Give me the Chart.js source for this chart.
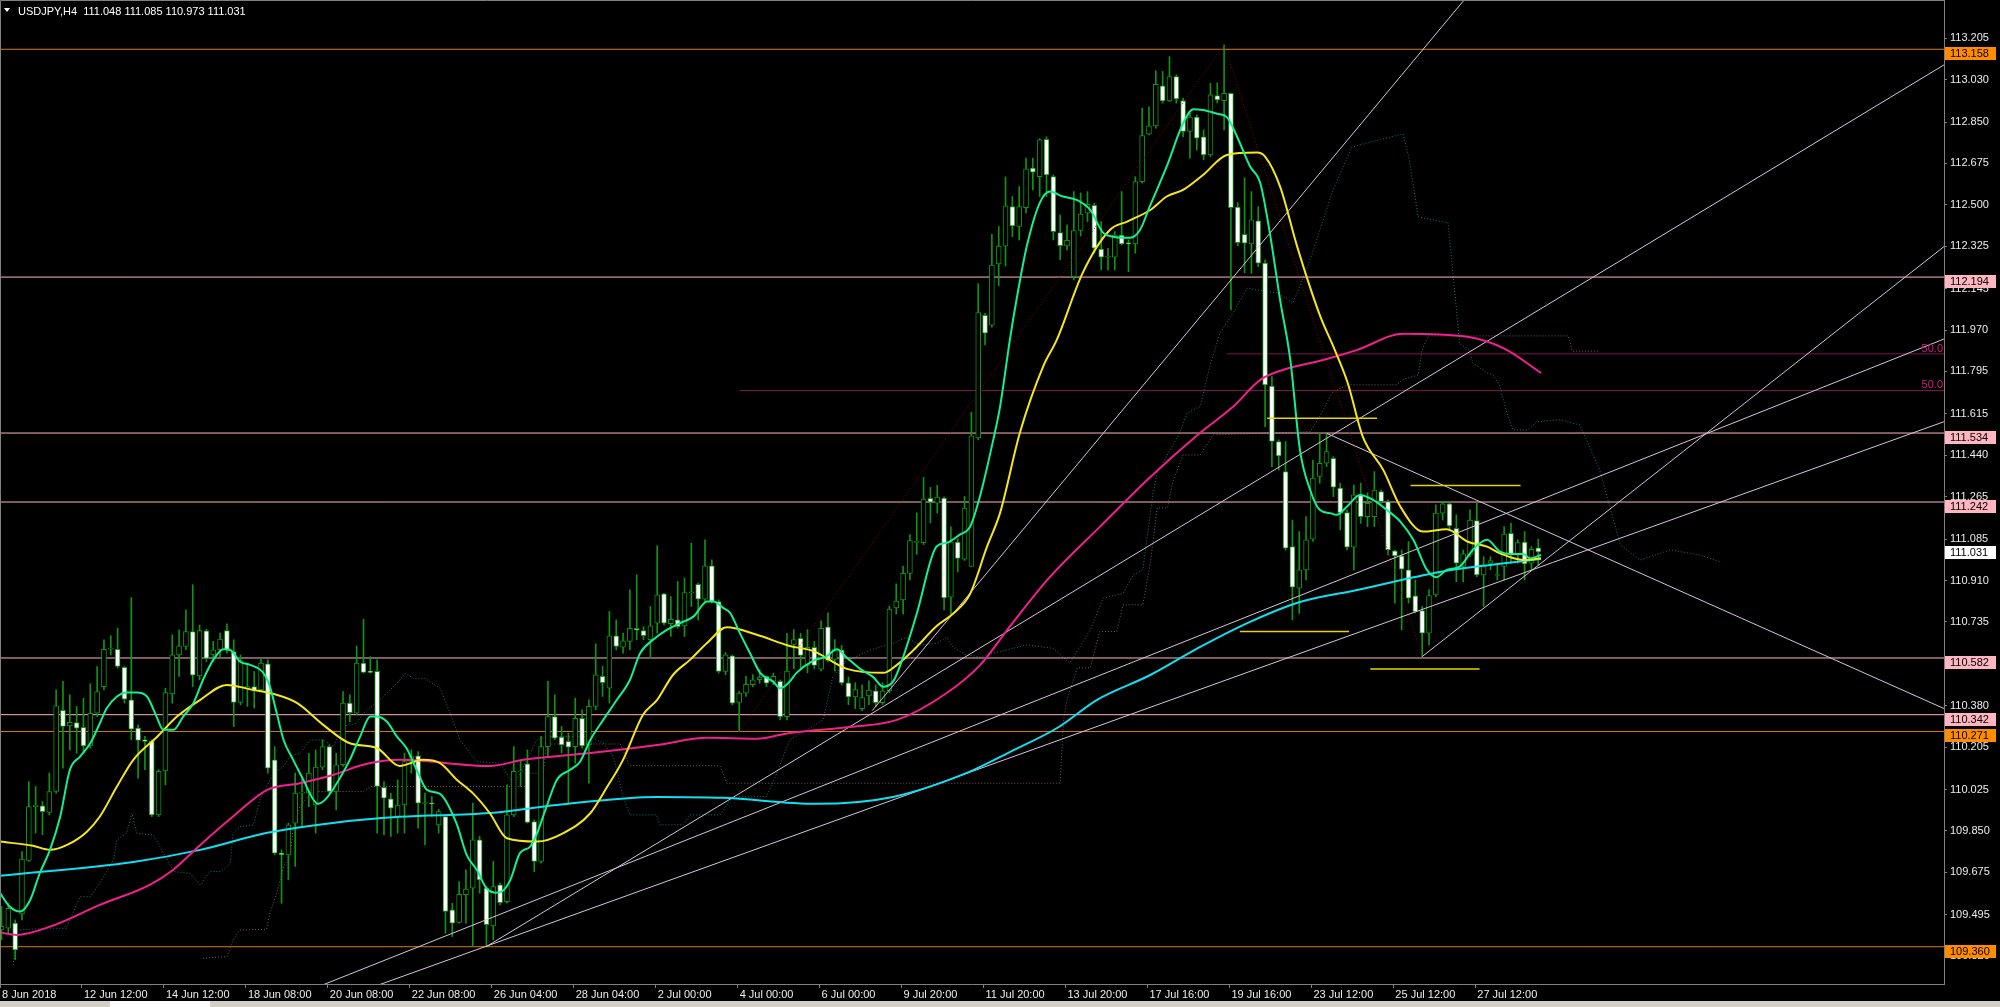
<!DOCTYPE html>
<html>
<head>
<meta charset="utf-8">
<title>USDJPY,H4</title>
<script src="https://cdn.jsdelivr.net/npm/chart.js@4.4.1/dist/chart.umd.min.js"></script>
<style>
  html, body { margin: 0; padding: 0; background: #000; overflow: hidden; }
</style>
</head>
<body>
<canvas id="chart" width="2000" height="1007"></canvas>
<script>
// H4 candles (bar 0 = 8 Jun 2018)
const opens = [109.431,109.439,109.460,109.499,109.725,109.953,109.956,109.928,110.017,110.360,
110.295,110.309,110.289,110.210,110.348,110.461,110.619,110.619,110.542,110.405,
110.285,110.236,110.229,109.918,110.104,110.430,110.595,110.631,110.694,110.506,
110.697,110.595,110.617,110.698,110.609,110.394,110.454,110.461,110.447,110.557,
110.151,109.756,109.749,109.883,110.010,110.010,109.960,110.120,110.207,110.017,
110.130,110.391,110.348,110.560,110.525,110.525,110.035,109.986,109.911,109.960,
110.144,110.168,109.966,109.968,109.876,109.911,109.516,109.463,109.580,109.608,
109.812,109.608,109.448,109.622,109.551,109.918,110.100,110.134,109.890,109.721,
110.207,110.334,110.247,110.229,110.207,110.327,110.214,110.377,110.504,110.454,
110.676,110.628,110.652,110.707,110.698,110.659,110.729,110.853,110.727,110.743,
110.718,110.858,110.894,110.831,110.972,110.821,110.525,110.591,110.394,110.433,
110.469,110.490,110.504,110.483,110.483,110.334,110.639,110.665,110.551,110.627,
110.535,110.714,110.576,110.615,110.477,110.417,110.368,110.421,110.443,110.393,
110.443,110.794,110.828,110.940,111.071,111.070,111.258,111.237,111.259,110.839,
111.073,111.000,110.970,111.513,112.032,111.990,112.250,112.325,112.492,112.408,
112.488,112.655,112.619,112.777,112.619,112.382,112.326,112.196,112.391,112.464,
112.498,112.312,112.278,112.278,112.372,112.340,112.334,112.598,112.799,112.834,
113.003,112.940,113.042,112.941,112.810,112.871,112.788,112.711,112.962,112.941,
112.972,112.490,112.375,112.334,112.432,112.253,111.733,111.498,111.371,111.053,
110.877,110.955,111.085,111.350,111.406,111.427,111.301,111.197,111.051,111.272,
111.180,111.180,111.286,111.244,111.035,111.014,110.955,110.845,110.783,110.687,
110.849,111.195,111.234,111.131,110.969,111.018,111.163,110.934,110.983,110.931,
110.969,111.110,111.023,111.072,110.983,111.048];

const highs = [109.530,109.544,109.474,109.763,110.059,110.038,109.975,110.095,110.447,110.483,
110.426,110.377,110.412,110.473,110.546,110.659,110.676,110.708,110.546,110.838,
110.299,110.250,110.236,110.109,110.454,110.680,110.701,110.786,110.892,110.722,
110.704,110.652,110.687,110.727,110.659,110.595,110.560,110.525,110.581,110.574,
110.207,109.770,109.883,110.095,110.080,110.179,110.193,110.236,110.214,110.179,
110.440,110.426,110.633,110.746,110.588,110.574,110.059,110.010,110.066,110.179,
110.193,110.186,110.010,109.996,109.942,109.918,109.544,109.636,109.685,109.968,
109.827,109.615,109.721,109.629,110.045,110.207,110.151,110.193,109.897,110.250,
110.483,110.426,110.292,110.264,110.412,110.363,110.405,110.642,110.546,110.779,
110.743,110.687,110.870,110.934,110.715,110.800,111.057,110.856,110.842,110.906,
110.920,111.068,110.899,111.082,110.997,110.828,110.605,110.595,110.440,110.504,
110.511,110.532,110.506,110.518,110.490,110.686,110.702,110.686,110.702,110.652,
110.739,110.773,110.660,110.635,110.502,110.477,110.468,110.485,110.468,110.477,
110.802,110.896,110.970,111.104,111.196,111.346,111.304,111.313,111.264,111.137,
111.087,111.266,111.622,112.166,112.041,112.375,112.408,112.618,112.535,112.577,
112.698,112.698,112.780,112.788,112.626,112.457,112.415,112.556,112.550,112.556,
112.507,112.429,112.316,112.386,112.556,112.351,112.619,112.909,112.915,113.067,
113.064,113.127,113.050,112.951,112.888,112.880,112.817,113.014,113.016,113.177,
112.973,112.509,112.614,112.556,112.492,112.267,111.773,111.505,111.498,111.166,
111.117,111.180,111.420,111.533,111.533,111.434,111.322,111.209,111.314,111.322,
111.281,111.371,111.293,111.251,111.039,111.039,111.075,110.912,110.800,110.870,
111.230,111.244,111.243,111.188,111.039,111.209,111.237,111.011,111.011,110.983,
111.138,111.152,111.082,111.117,111.053,111.085];

const lows = [109.389,109.417,109.305,109.474,109.721,109.841,109.834,109.918,110.010,110.116,
110.193,110.179,110.179,110.200,110.334,110.447,110.595,110.539,110.391,110.236,
110.073,110.109,109.911,109.911,110.045,110.391,110.504,110.617,110.461,110.490,
110.567,110.567,110.588,110.602,110.292,110.384,110.377,110.370,110.440,110.095,
109.749,109.544,109.643,109.700,109.869,109.953,109.841,110.109,110.010,109.939,
110.123,110.313,110.341,110.518,110.518,109.841,109.834,109.827,109.841,109.841,
110.095,109.862,109.791,109.911,109.841,109.417,109.403,109.460,109.460,109.361,
109.587,109.361,109.389,109.537,109.544,109.911,110.038,109.883,109.678,109.714,
110.165,110.236,110.179,109.968,110.137,110.200,110.052,110.363,110.419,110.391,
110.617,110.602,110.617,110.659,110.659,110.581,110.687,110.722,110.673,110.708,
110.673,110.800,110.743,110.821,110.814,110.518,110.511,110.384,110.271,110.419,
110.461,110.475,110.461,110.469,110.320,110.320,110.536,110.536,110.519,110.536,
110.527,110.565,110.527,110.468,110.384,110.368,110.359,110.384,110.376,110.385,
110.434,110.768,110.768,110.912,111.020,111.062,111.154,111.196,110.785,110.768,
110.946,110.995,110.968,111.505,111.907,111.982,112.158,112.241,112.365,112.351,
112.466,112.563,112.535,112.535,112.351,112.267,112.309,112.182,112.368,112.429,
112.295,112.224,112.224,112.224,112.330,112.217,112.295,112.591,112.796,112.824,
112.930,112.937,112.930,112.788,112.697,112.732,112.690,112.704,112.931,112.817,
112.055,112.326,112.212,112.210,112.238,111.561,111.392,111.378,111.039,110.743,
110.771,110.912,111.075,111.322,111.392,111.265,111.124,111.039,110.955,111.152,
111.138,111.138,111.237,111.018,110.814,110.701,110.814,110.773,110.588,110.637,
110.842,111.166,111.124,110.905,110.905,111.011,110.926,110.800,110.955,110.912,
110.912,110.983,110.983,110.912,110.955,110.973];

const closes = [109.446,109.523,109.347,109.731,109.953,109.959,109.932,110.017,110.380,110.292,
110.310,110.285,110.210,110.348,110.440,110.619,110.621,110.546,110.408,110.281,
110.233,110.229,109.918,110.102,110.436,110.595,110.633,110.694,110.509,110.698,
110.580,110.617,110.662,110.617,110.394,110.571,110.461,110.444,110.560,110.116,
109.756,109.750,109.876,110.010,110.014,110.095,110.120,110.207,110.017,110.130,
110.391,110.351,110.560,110.521,110.521,110.038,109.989,109.946,109.960,110.144,
110.165,109.968,109.969,109.965,109.932,109.509,109.460,109.582,109.604,109.812,
109.643,109.453,109.615,109.547,109.918,110.102,110.103,109.886,109.721,110.207,
110.334,110.243,110.214,110.205,110.327,110.210,110.377,110.511,110.478,110.676,
110.631,110.655,110.708,110.700,110.676,110.718,110.849,110.729,110.746,110.715,
110.859,110.860,110.831,110.972,110.821,110.525,110.595,110.391,110.433,110.471,
110.490,110.501,110.475,110.504,110.334,110.527,110.660,110.593,110.627,110.551,
110.707,110.572,110.618,110.476,110.417,110.448,110.414,110.446,110.393,110.443,
110.789,110.823,110.940,111.079,111.075,111.254,111.241,111.263,110.836,111.073,
111.003,111.216,111.522,112.044,111.957,112.245,112.325,112.495,112.411,112.492,
112.652,112.638,112.775,112.626,112.386,112.327,112.350,112.391,112.461,112.502,
112.316,112.278,112.281,112.372,112.334,112.334,112.598,112.793,112.834,113.010,
112.940,113.042,112.948,112.810,112.871,112.782,112.711,112.965,112.944,112.972,
112.488,112.340,112.337,112.436,112.253,111.738,111.498,111.437,111.047,110.882,
110.955,111.082,111.343,111.406,111.455,111.305,111.197,111.051,111.272,111.180,
111.237,111.293,111.244,111.039,111.014,110.958,110.835,110.778,110.687,110.846,
111.195,111.234,111.141,110.983,111.023,111.166,110.934,110.969,110.994,110.934,
111.106,111.023,111.070,110.980,111.042,111.031];

// moving averages as [bar, price]
const maFast = [[-0.2,109.587],[1.2,109.530],[2.7,109.509],[4.2,109.558],[5.6,109.671],[7.1,109.770],[8.6,109.911],[10.0,110.108],[11.5,110.165],[13.0,110.221],[14.4,110.306],[15.4,110.369],[16.9,110.419],[18.3,110.436],[19.8,110.436],[21.3,110.419],[22.7,110.334],[23.7,110.278],[25.2,110.278],[26.6,110.334],[28.1,110.391],[29.5,110.489],[31.0,110.574],[32.5,110.619],[33.5,110.616],[34.9,110.567],[36.4,110.553],[38.3,110.520],[39.3,110.461],[40.3,110.348],[41.3,110.235],[42.7,110.151],[44.2,110.066],[45.7,109.981],[46.4,109.965],[47.6,109.989],[49.1,110.052],[51.0,110.151],[52.5,110.249],[54.0,110.334],[54.9,110.334],[56.4,110.313],[57.9,110.249],[59.3,110.200],[60.8,110.108],[62.3,110.024],[64.2,110.007],[66.6,109.883],[68.1,109.749],[69.6,109.685],[71.0,109.608],[72.3,109.589],[73.2,109.593],[74.5,109.643],[75.9,109.756],[77.4,109.784],[78.4,109.840],[79.8,109.953],[81.3,110.066],[83.2,110.108],[84.7,110.143],[86.2,110.235],[88.1,110.320],[90.1,110.405],[92.0,110.489],[93.5,110.602],[95.4,110.659],[97.4,110.701],[99.3,110.729],[101.3,110.757],[103.3,110.821],[104.2,110.821],[105.7,110.793],[106.7,110.772],[108.1,110.687],[109.6,110.602],[111.1,110.518],[113.0,110.482],[114.0,110.454],[115.4,110.482],[116.4,110.519],[118.8,110.570],[120.8,110.589],[122.3,110.619],[123.7,110.585],[125.7,110.536],[127.6,110.502],[129.1,110.460],[130.6,110.485],[132.0,110.585],[134.0,110.769],[136.9,111.054],[138.4,111.070],[140.3,111.104],[141.8,111.137],[143.3,111.271],[145.2,111.505],[146.2,111.646],[147.7,111.941],[148.6,112.097],[150.1,112.323],[152.0,112.507],[153.5,112.556],[155.4,112.535],[157.4,112.521],[159.4,112.478],[161.3,112.381],[162.7,112.365],[165.2,112.360],[166.7,112.394],[168.1,112.492],[170.6,112.662],[173.0,112.845],[174.5,112.904],[175.9,112.901],[178.0,112.885],[179.4,112.871],[180.9,112.788],[182.8,112.662],[184.3,112.591],[185.7,112.380],[187.2,112.097],[188.7,111.843],[190.1,111.463],[191.6,111.293],[193.0,111.209],[194.5,111.195],[195.5,111.188],[197.0,111.223],[198.9,111.272],[200.8,111.251],[202.8,111.209],[204.8,111.159],[206.7,111.082],[208.7,110.955],[210.1,110.924],[211.6,110.955],[213.5,110.969],[215.4,111.039],[217.5,111.082],[219.4,111.032],[220.9,111.022],[222.8,111.022],[223.8,111.004],[225.4,111.018]];

const maMid = [[-0.2,109.805],[4.6,109.787],[7.1,109.770],[9.6,109.791],[12.5,109.847],[14.4,109.911],[16.9,110.038],[19.3,110.151],[22.8,110.249],[25.7,110.334],[29.1,110.405],[33.0,110.468],[36.8,110.447],[39.8,110.430],[43.3,110.391],[47.1,110.299],[51.0,110.221],[55.0,110.200],[58.3,110.125],[61.7,110.151],[64.2,110.137],[66.7,110.066],[69.0,110.010],[71.5,109.925],[74.0,109.819],[78.4,109.805],[82.2,109.840],[86.2,109.925],[88.7,110.038],[91.0,110.151],[93.9,110.341],[96.0,110.405],[98.3,110.510],[100.8,110.574],[103.3,110.645],[106.2,110.712],[110.6,110.680],[115.4,110.633],[118.8,110.612],[123.8,110.536],[129.1,110.519],[131.1,110.553],[133.4,110.612],[137.0,110.719],[139.3,110.769],[141.8,110.853],[144.3,111.054],[146.2,111.196],[149.1,111.535],[152.5,111.815],[154.5,111.928],[158.3,112.212],[162.3,112.394],[164.8,112.429],[168.2,112.478],[170.6,112.535],[173.0,112.563],[175.9,112.626],[179.4,112.711],[183.8,112.721],[185.0,112.704],[187.2,112.577],[189.7,112.323],[193.0,112.034],[195.2,111.886],[197.1,111.746],[199.3,111.519],[202.3,111.378],[204.8,111.223],[208.1,111.117],[211.6,111.127],[214.6,111.075],[217.5,111.053],[219.4,111.025],[222.8,110.997],[225.4,111.004]];

const maSlow = [[-0.2,109.420],[2.2,109.410],[7.1,109.445],[14.4,109.537],[21.7,109.622],[25.1,109.685],[29.1,109.791],[33.9,109.911],[38.9,110.024],[43.7,110.052],[48.5,110.087],[53.5,110.134],[58.3,110.151],[71.5,110.125],[76.4,110.151],[86.2,110.180],[96.0,110.214],[103.3,110.244],[110.6,110.240],[115.4,110.265],[124.2,110.290],[131.1,110.320],[138.4,110.434],[143.3,110.553],[147.7,110.718],[153.5,110.925],[160.8,111.137],[168.2,111.348],[175.5,111.535],[180.3,111.645],[184.3,111.759],[187.6,111.801],[193.5,111.843],[198.5,111.886],[205.2,111.954],[214.6,111.941],[220.1,111.890],[225.4,111.788]];

const maLong = [[-0.2,109.660],[19.3,109.719],[29.1,109.770],[38.9,109.842],[48.5,109.884],[58.3,109.910],[71.5,109.926],[81.3,109.960],[96.0,109.994],[105.6,109.990],[119.3,109.965],[130.5,109.994],[141.7,110.100],[147.7,110.185],[154.8,110.290],[160.4,110.405],[168.2,110.510],[175.5,110.629],[182.8,110.735],[190.1,110.819],[198.5,110.870],[210.6,110.946],[217.9,110.976],[225.4,111.001]];

// ichimoku-style dotted lines
const spanTeal = [[1.7,109.283],[2.2,109.431],[7.1,109.438],[9.5,109.438],[11.5,109.572],[13.0,109.572],[14.4,109.629],[16.4,109.727],[16.9,109.812],[18.3,109.840],[19.1,109.925],[19.8,109.840],[22.2,109.833],[23.2,109.784],[25.2,109.678],[27.6,109.671],[29.1,109.622],[30.5,109.678],[32.2,109.678],[33.5,109.713],[33.9,109.840],[34.9,109.868],[36.9,109.876],[37.8,109.981],[39.8,110.094],[41.3,110.122],[42.2,110.165],[43.7,110.179],[45.2,110.235],[47.1,110.235],[48.6,110.207],[50.0,110.292],[52.0,110.306],[53.0,110.348],[55.4,110.405],[57.9,110.475],[59.1,110.518],[60.3,110.496],[62.0,110.496],[64.2,110.454],[65.7,110.348],[67.1,110.235],[69.6,110.143],[73.0,110.137],[74.5,110.066],[75.4,110.066],[77.4,110.179],[78.4,110.235],[79.8,110.249],[86.2,110.249],[88.1,110.221],[89.6,110.165],[91.0,109.995],[92.0,109.918],[95.9,109.918],[96.4,109.876],[99.8,109.876],[100.8,109.918],[105.2,109.918],[106.7,109.981],[108.1,109.995],[112.0,109.995],[113.5,110.094],[115.4,110.235],[120.3,110.320],[121.7,110.502],[123.7,110.570],[127.6,110.620],[130.5,110.644],[132.5,110.669],[134.5,110.637],[136.9,110.644],[138.4,110.669],[139.3,110.627],[141.3,110.595],[143.3,110.587],[147.7,110.620],[150.1,110.637],[154.0,110.623],[156.4,110.560],[157.9,110.630],[159.4,110.701],[161.3,110.835],[164.2,110.856],[165.7,110.934],[167.1,110.955],[168.6,111.281],[169.2,111.365],[171.1,111.463],[172.5,111.535],[173.6,111.619],[175.5,111.646],[176.9,111.815],[178.4,111.958],[180.3,112.042],[182.4,112.148],[183.8,112.140],[186.7,112.127],[189.1,112.085],[191.6,112.267],[194.9,112.559],[197.7,112.745],[205.2,112.800],[206.1,112.694],[207.4,112.449],[211.8,112.423],[213.5,111.911],[215.0,111.886],[215.4,111.831],[217.5,111.788],[218.4,111.780],[219.4,111.730],[220.4,111.619],[221.3,111.547],[223.4,111.547],[224.8,111.582],[228.2,111.590],[231.1,111.568],[234.0,111.378],[237.0,111.061],[239.9,110.997],[244.3,111.039],[248.7,111.018],[251.6,110.989]];

const spanRose = [[29.5,109.311],[33.0,109.318],[33.9,109.389],[34.9,109.431],[38.8,109.434],[39.3,109.502],[40.3,109.587],[41.3,109.699],[42.2,109.741],[42.7,109.854],[43.7,109.953],[45.2,110.010],[46.1,110.017],[53.0,110.017],[54.0,110.038],[76.9,110.038],[77.0,110.094],[79.3,110.094],[79.8,110.218],[90.6,110.218],[92.0,110.126],[105.2,110.126],[106.2,110.052],[155.0,110.052],[155.5,110.320],[156.0,110.405],[157.5,110.540],[159.4,110.540],[160.8,110.694],[163.3,110.694],[164.2,110.807],[167.1,110.807],[168.2,110.984],[169.2,111.217],[170.7,111.217],[171.5,111.329],[173.0,111.441],[175.5,111.441],[177.4,111.526],[191.6,111.540],[193.0,111.604],[194.9,111.709],[197.1,111.738],[204.3,111.738],[205.1,111.759],[207.4,111.780],[208.0,111.886],[208.9,111.945],[229.4,111.945],[230.0,111.881],[234.0,111.881]];

// zigzag swing points
const zigIdx = [108, 179, 208];
const zigVal = [110.271, 113.177, 110.588];

// horizontal levels
const levelPrices = [113.158, 112.194, 111.534, 111.242, 110.582, 110.342, 110.271, 109.360];
const levelKind = ['o', 'p', 'p', 'p', 'p', 'p', 'o', 'o'];

// fibonacci 50% levels
const fibPrice = [111.714, 111.869];
const fibFrom = [108.1, 179.4];

// trend lines (bar, price) -> (bar, price)
const trendFromIdx = [43.7, 52.5, 71, 127.5, 208, 194];
const trendFromVal = [109.160, 109.170, 109.361, 110.360, 110.588, 111.533];
const trendToIdx = [284.4, 284.4, 284.4, 219.4, 284.4, 284.4];
const trendToVal = [111.932, 111.582, 113.092, 113.549, 112.323, 110.368];

// short yellow marks
const markPrice = [111.597, 111.312, 110.694, 110.535];
const markFrom = [185.3, 206.3, 181.3, 200.4];
const markTo = [201.4, 222.4, 197.3, 216.4];

// axes
const yTicks = [113.205, 113.030, 112.850, 112.675, 112.500, 112.325, 112.145, 111.970, 111.795, 111.615,
  111.440, 111.265, 111.085, 110.910, 110.735, 110.555, 110.380, 110.205, 110.025, 109.850, 109.675, 109.495, 109.320];
const timeLabels = ['8 Jun 2018', '12 Jun 12:00', '14 Jun 12:00', '18 Jun 08:00', '20 Jun 08:00', '22 Jun 08:00',
  '26 Jun 04:00', '28 Jun 04:00', '2 Jul 00:00', '4 Jul 00:00', '6 Jul 00:00', '9 Jul 20:00', '11 Jul 20:00',
  '13 Jul 20:00', '17 Jul 16:00', '19 Jul 16:00', '23 Jul 12:00', '25 Jul 12:00', '27 Jul 12:00'];
const timeTickIdx = timeLabels.map((_, k) => 12 * k - 0.22);

const X_MIN = -0.22, X_MAX = 284.4, Y_MIN = 109.2023, Y_MAX = 113.3666;

const FONT = "'Liberation Sans', Arial, sans-serif";
const GREEN = '#119411';
const pts = arr => arr.map(([x, y]) => ({ x, y }));
const line = (data, color, width, extra) => Object.assign({
  type: 'line', data, borderColor: color, borderWidth: width,
  pointRadius: 0, fill: false, tension: 0
}, extra || {});

const last = closes.length - 1;
const datasets = [];

levelPrices.forEach((p, k) => {
  datasets.push(line(pts([[X_MIN, p], [X_MAX, p]]), levelKind[k] === 'o' ? '#d9780c' : '#ffb6c1', 1, { order: 40 }));
});
fibPrice.forEach((p, k) => {
  datasets.push(line(pts([[fibFrom[k], p], [X_MAX, p]]), '#80124f', 1, { order: 41 }));
});
datasets.push(line(pts(spanTeal), '#1f7474', 1, { borderDash: [1, 2], order: 45 }));
datasets.push(line(pts(spanRose), '#7c5468', 1, { borderDash: [1, 2], order: 45 }));

datasets.push({
  type: 'bar', order: 30, grouped: false, barThickness: 1,
  data: lows.map((l, i) => ({ x: i, y: [l, highs[i]] })),
  backgroundColor: GREEN, borderWidth: 0
});
datasets.push({
  type: 'bar', order: 25, grouped: false, barThickness: 5, minBarLength: 1,
  data: opens.map((o, i) => ({ x: i, y: [o, closes[i]] })),
  backgroundColor: ctx => closes[ctx.dataIndex] >= opens[ctx.dataIndex] ? '#000000' : '#ffffff',
  borderColor: GREEN, borderWidth: 1, borderSkipped: false
});

datasets.push(line(zigIdx.map((x, k) => ({ x, y: zigVal[k] })), '#8b0000', 1, { borderDash: [1, 2], order: 22 }));

trendFromIdx.forEach((x, k) => {
  datasets.push(line(pts([[x, trendFromVal[k]], [trendToIdx[k], trendToVal[k]]]), '#d6c4de', 1, { order: 15 }));
});

const smooth = { cubicInterpolationMode: 'monotone' };
datasets.push(line(pts(maLong), '#12dff0', 2, Object.assign({ order: 11 }, smooth)));
datasets.push(line(pts(maSlow), '#f2208c', 2, Object.assign({ order: 10 }, smooth)));
datasets.push(line(pts(maMid), '#f6e61c', 2, Object.assign({ order: 9 }, smooth)));
datasets.push(line(pts(maFast), '#12f092', 2, Object.assign({ order: 8 }, smooth)));

markPrice.forEach((p, k) => {
  datasets.push(line(pts([[markFrom[k], p], [markTo[k], p]]), '#e8d400', 1.5, { order: 5 }));
});

const frame = {
  id: 'frame',
  beforeDraw(chart) {
    const c = chart.ctx;
    c.save();
    c.fillStyle = '#000000';
    c.fillRect(0, 0, chart.width, chart.height);
    c.restore();
  },
  afterDraw(chart) {
    const c = chart.ctx, a = chart.chartArea, sy = chart.scales.y;
    c.save();
    c.strokeStyle = '#808080';
    c.lineWidth = 1;
    c.beginPath();
    c.moveTo(0.5, a.bottom);
    c.lineTo(0.5, 0.5);
    c.lineTo(a.right, 0.5);
    c.stroke();

    c.font = '11px ' + FONT;
    // fib labels
    c.fillStyle = '#d11f82';
    c.textAlign = 'right';
    c.textBaseline = 'alphabetic';
    fibPrice.forEach(p => c.fillText('50.0', a.right - 1, sy.getPixelForValue(p) - 2));

    // price boxes on the axis
    c.textAlign = 'left';
    c.textBaseline = 'middle';
    levelPrices.forEach((p, k) => {
      const y = Math.round(sy.getPixelForValue(p));
      c.fillStyle = levelKind[k] === 'o' ? '#ff8c00' : '#ffb6c1';
      c.fillRect(a.right + 1, y - 2, 51, 13);
      c.fillStyle = '#000000';
      c.fillText(p.toFixed(3), a.right + 6, y + 5);
    });
    const yc = Math.round(sy.getPixelForValue(closes[last]));
    c.fillStyle = '#ffffff';
    c.fillRect(a.right + 1, yc - 6, 51, 13);
    c.fillStyle = '#000000';
    c.fillText(closes[last].toFixed(3), a.right + 6, yc + 1);

    // title
    c.fillStyle = '#ffffff';
    c.beginPath();
    c.moveTo(4, 8); c.lineTo(10, 8); c.lineTo(7, 12);
    c.closePath();
    c.fill();
    c.textBaseline = 'alphabetic';
    const ohlc = [opens[last], highs[last], lows[last], closes[last]].map(v => v.toFixed(3)).join(' ');
    c.fillText('USDJPY,H4  ' + ohlc, 18, 14.5);

    // tab strip
    c.fillStyle = '#d4d0c8';
    c.fillRect(0, 1001, chart.width, 6);
    c.fillStyle = '#ffffff';
    c.fillRect(110, 1001, 100, 6);
    c.restore();
  }
};

new Chart(document.getElementById('chart').getContext('2d'), {
  type: 'bar',
  data: { datasets },
  options: {
    responsive: false,
    devicePixelRatio: 1,
    animation: false,
    events: [],
    layout: { autoPadding: false, padding: { left: 0, top: 0, right: 0, bottom: 6 } },
    plugins: { legend: { display: false }, tooltip: { enabled: false } },
    scales: {
      x: {
        type: 'linear', min: X_MIN, max: X_MAX, offset: false,
        afterFit: s => { s.height = 17; s.paddingLeft = 0; s.paddingRight = 0; },
        afterBuildTicks: s => { s.ticks = timeTickIdx.map(v => ({ value: v })); },
        ticks: {
          autoSkip: false, maxRotation: 0, minRotation: 0, align: 'start', padding: 0, labelOffset: 2,
          color: '#ececec', font: { family: FONT, size: 11 },
          callback: (v, k) => timeLabels[k]
        },
        grid: { drawOnChartArea: false, offset: false, tickLength: 4, tickColor: '#808080' },
        border: { display: true, color: '#808080' }
      },
      y: {
        position: 'right', min: Y_MIN, max: Y_MAX, beginAtZero: false,
        afterFit: s => { s.width = 56; s.paddingTop = 0; s.paddingBottom = 0; },
        afterBuildTicks: s => { s.ticks = yTicks.map(v => ({ value: v })); },
        ticks: {
          autoSkip: false, padding: 3, color: '#ececec', font: { family: FONT, size: 11 },
          callback: v => v.toFixed(3)
        },
        grid: { drawOnChartArea: false, tickLength: 3, tickColor: '#808080' },
        border: { display: true, color: '#808080' }
      }
    }
  },
  plugins: [frame]
});
</script>
</body>
</html>
